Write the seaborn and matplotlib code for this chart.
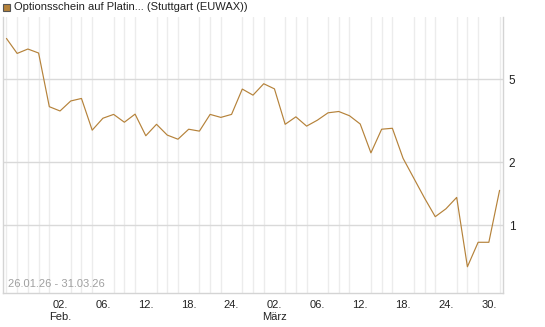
import pandas as pd
import matplotlib.pyplot as plt
import matplotlib.patches as mpatches
import seaborn as sns

# data
trade_days = pd.bdate_range("2026-01-26", "2026-03-31")
prices = [7.82, 6.63, 6.96, 6.66, 3.69, 3.52, 3.93, 4.04, 2.85, 3.25,
          3.39, 3.11, 3.40, 2.68, 3.04, 2.70, 2.58, 2.88, 2.82, 3.39,
          3.28, 3.39, 4.48, 4.19, 4.75, 4.49, 3.04, 3.30, 2.98, 3.18,
          3.45, 3.50, 3.34, 3.05, 2.22, 2.88, 2.91, 2.09, 1.68, 1.35,
          1.10, 1.20, 1.36, 0.634, 0.83, 0.83, 1.47]
tick_days = ["2026-02-02", "2026-02-06", "2026-02-12", "2026-02-18", "2026-02-24",
             "2026-03-02", "2026-03-06", "2026-03-12", "2026-03-18", "2026-03-24",
             "2026-03-30"]
tick_labels = ["02.\nFeb.", "06.", "12.", "18.", "24.",
               "02.\nMärz", "06.", "12.", "18.", "24.", "30."]
y_ticks = [1, 2, 5]
title = "Optionsschein auf Platin... (Stuttgart (EUWAX))"
range_text = "26.01.26 - 31.03.26"

df = pd.DataFrame({"day": range(len(trade_days)), "price": prices})

sns.set_style("white")
plt.rcParams["font.family"] = ["Liberation Sans", "DejaVu Sans"]

line_color = "#b5823a"
fig = plt.figure(figsize=(5.45, 3.27), dpi=100)
ax = fig.add_axes([3/545, 34/327, 500/545, 276/327])

sns.lineplot(data=df, x="day", y="price", ax=ax, color=line_color, linewidth=0.85)

ax.set_yscale("log")
ax.set_ylim(0.475, 9.9)
ax.set_xlim(-0.32, 46.32)

# grid
ax.set_xticks(df["day"], minor=True)
pos = [list(trade_days).index(pd.Timestamp(d)) for d in tick_days]
ax.set_xticks(pos)
ax.set_xticklabels(tick_labels, fontsize=8, color="#222222")
ax.grid(which="minor", axis="x", color="#ececec", linewidth=1)
ax.set_yticks(y_ticks)
ax.set_yticklabels([str(v) for v in y_ticks], fontsize=8.5, color="#222222")
ax.yaxis.set_minor_locator(plt.NullLocator())
ax.grid(which="major", axis="y", color="#d9d9d9", linewidth=1)
ax.set_axisbelow(True)
ax.yaxis.tick_right()
ax.tick_params(axis="y", length=0, pad=4)
ax.tick_params(axis="x", which="both", length=2, color="#cccccc", pad=3)

for side in ["left", "right", "bottom"]:
    ax.spines[side].set_color("#d4d4d4")
    ax.spines[side].set_linewidth(1)
ax.spines["top"].set_visible(False)
ax.set_xlabel("")
ax.set_ylabel("")

ax.text(0.01, 0.015, range_text, transform=ax.transAxes, fontsize=8,
        color="#a0a0a0", ha="left", va="bottom")

# legend header
fig.patches.append(mpatches.Rectangle((3/545, 1 - 11/327), 7/545, 7/327,
                                      transform=fig.transFigure,
                                      facecolor="#b5823a", edgecolor="#555555",
                                      linewidth=0.8))
fig.text(14/545, 1 - 7.5/327, title, fontsize=8, color="#222222", va="center", ha="left")

fig.savefig("out.png", dpi=100)
